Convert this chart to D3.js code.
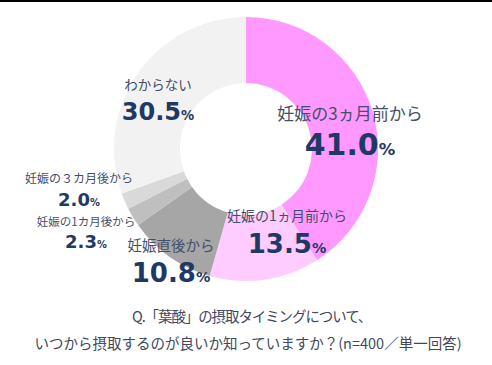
<!DOCTYPE html>
<html><head><meta charset="utf-8">
<script src="https://cdn.jsdelivr.net/npm/d3@7"></script>
<style>html,body{margin:0;padding:0;background:#fff;}svg{display:block;}</style>
</head><body>
<svg id="c" width="492" height="365"></svg>
<script>
const categories = ["妊娠の3ヵ月前から","妊娠の1ヵ月前から","妊娠直後から","妊娠の1カ月後から","妊娠の３カ月後から","わからない"];
const values = [41.0, 13.5, 10.8, 2.3, 2.0, 30.5];
const colors = ["#ff99ff","#ffccff","#a6a6a6","#bfbfbf","#d9d9d9","#f2f2f2"];
const captionLines = ["Q.「葉酸」の摂取タイミングについて、","いつから摂取するのが良いか知っていますか？(n=400／単一回答)"];

const svg = d3.select("#c");
svg.append("rect").attr("x",0).attr("y",0).attr("width",492).attr("height",2).attr("fill","#000");

const cx = 246, cy = 149, R = 132, r = 66;
const pie = d3.pie().sort(null).value(d=>d)(values);
const arc = d3.arc().innerRadius(r).outerRadius(R);
const g = svg.append("g").attr("transform",`translate(${cx},${cy})`);
g.selectAll("path").data(pie).join("path").attr("d",arc).attr("fill",(d,i)=>colors[i]);

const labelFont = "'Noto Sans CJK JP', sans-serif";
const numFont = "'DejaVu Sans', Verdana, sans-serif";
const labelColor = "#434e6a";
const numColor = "#1f3864";
// label layout: [x center, label baseline, label size, number baseline, number size]
const layout = [
  [350, 120, 17, 155, 30],
  [287, 221, 14, 253, 26],
  [171, 251, 14.5, 282, 26],
  [86, 226, 11.5, 248, 18],
  [79, 183, 12, 206, 18],
  [158, 90, 13.5, 120, 24]
];
categories.forEach((c,i)=>{
  const [x, ly, ls, ny, ns] = layout[i];
  svg.append("text").attr("x",x).attr("y",ly).attr("text-anchor","middle")
    .attr("font-family",labelFont).attr("font-size",ls).attr("fill",labelColor).text(c);
  const t = svg.append("text").attr("x",x).attr("y",ny).attr("text-anchor","middle")
    .attr("font-family",numFont).attr("font-weight","bold").attr("fill",numColor);
  t.append("tspan").attr("font-size",ns).text(values[i].toFixed(1));
  t.append("tspan").attr("font-size",ns*0.55).text("%");
});

svg.append("text").attr("x",132).attr("y",322)
  .attr("font-family",labelFont).attr("font-size",14.5).attr("fill","#404860")
  .style("letter-spacing","-1.1px").text(captionLines[0]);
svg.append("text").attr("x",248).attr("y",349).attr("text-anchor","middle")
  .attr("font-family",labelFont).attr("font-size",14.5).attr("fill","#404860").text(captionLines[1]);
</script>
</body></html>
